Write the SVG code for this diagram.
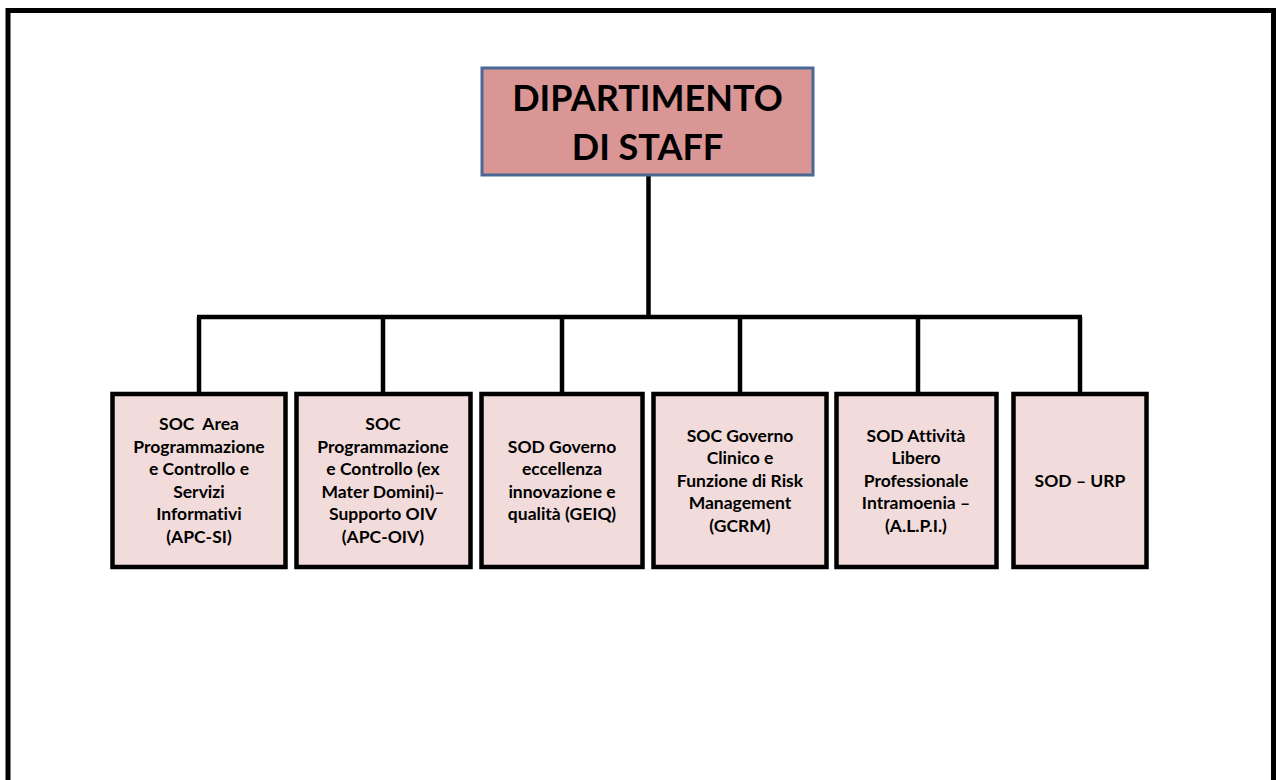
<svg xmlns="http://www.w3.org/2000/svg" width="1276" height="780" viewBox="0 0 1276 780">
<style>
.frame{fill:none;stroke:#000;stroke-width:5}
.top{fill:#d99694;stroke:#4a6896;stroke-width:3}
.box{fill:#f2dcdb;stroke:#000;stroke-width:4.5}
.conn{stroke:#000;stroke-width:4.5;fill:none}
.t{font-family:Lato,"Open Sans","Liberation Sans",sans-serif;font-weight:bold;font-size:17.5px;fill:#000;text-anchor:middle;font-variant-ligatures:none}
.tt{font-family:Lato,"Open Sans","Liberation Sans",sans-serif;font-weight:bold;font-size:36px;fill:#000;text-anchor:middle}
</style>
<rect width="1276" height="780" fill="#fff"/>
<rect class="frame" x="8" y="10.5" width="1265.5" height="800"/>
<g id="connectors">
<line class="conn" x1="648.5" y1="175" x2="648.5" y2="317"/>
<line class="conn" x1="197" y1="317" x2="1082" y2="317"/>
<line class="conn" x1="199" y1="317" x2="199" y2="393"/>
<line class="conn" x1="383" y1="317" x2="383" y2="393"/>
<line class="conn" x1="562" y1="317" x2="562" y2="393"/>
<line class="conn" x1="740" y1="317" x2="740" y2="393"/>
<line class="conn" x1="918" y1="317" x2="918" y2="393"/>
<line class="conn" x1="1080" y1="317" x2="1080" y2="393"/>
</g>
<g id="top">
<rect class="top" x="482" y="68" width="331" height="107"/>
<text class="tt" x="647.5" y="111">DIPARTIMENTO</text>
<text class="tt" x="647.5" y="160">DI STAFF</text>
</g>
<g id="n1">
<rect class="box" x="112.5" y="394" width="173" height="173"/>
<text class="t"><tspan x="199" y="430">SOC&#160; Area</tspan><tspan x="199" y="453">Programmazione</tspan><tspan x="199" y="475">e Controllo e</tspan><tspan x="199" y="498">Servizi</tspan><tspan x="199" y="520">Informativi</tspan><tspan x="199" y="543">(APC-SI)</tspan></text>
</g>
<g id="n2">
<rect class="box" x="296.5" y="394" width="174" height="173"/>
<text class="t"><tspan x="383" y="430">SOC</tspan><tspan x="383" y="453">Programmazione</tspan><tspan x="383" y="475">e Controllo (ex</tspan><tspan x="383" y="498">Mater Domini)–</tspan><tspan x="383" y="520">Supporto OIV</tspan><tspan x="383" y="543">(APC-OIV)</tspan></text>
</g>
<g id="n3">
<rect class="box" x="481.5" y="394" width="161" height="173"/>
<text class="t"><tspan x="562" y="453">SOD Governo</tspan><tspan x="562" y="475">eccellenza</tspan><tspan x="562" y="498">innovazione e</tspan><tspan x="562" y="520">qualità (GEIQ)</tspan></text>
</g>
<g id="n4">
<rect class="box" x="653.5" y="394" width="173" height="173"/>
<text class="t"><tspan x="740" y="442">SOC Governo</tspan><tspan x="740" y="464">Clinico e</tspan><tspan x="740" y="487">Funzione di Risk</tspan><tspan x="740" y="509">Management</tspan><tspan x="740" y="532">(GCRM)</tspan></text>
</g>
<g id="n5">
<rect class="box" x="836.5" y="394" width="160" height="173"/>
<text class="t"><tspan x="916" y="442">SOD Attività</tspan><tspan x="916" y="464">Libero</tspan><tspan x="916" y="487">Professionale</tspan><tspan x="916" y="509">Intramoenia –</tspan><tspan x="916" y="532">(A.L.P.I.)</tspan></text>
</g>
<g id="n6">
<rect class="box" x="1013.5" y="394" width="133" height="173"/>
<text class="t"><tspan x="1080" y="487">SOD – URP</tspan></text>
</g>
</svg>
